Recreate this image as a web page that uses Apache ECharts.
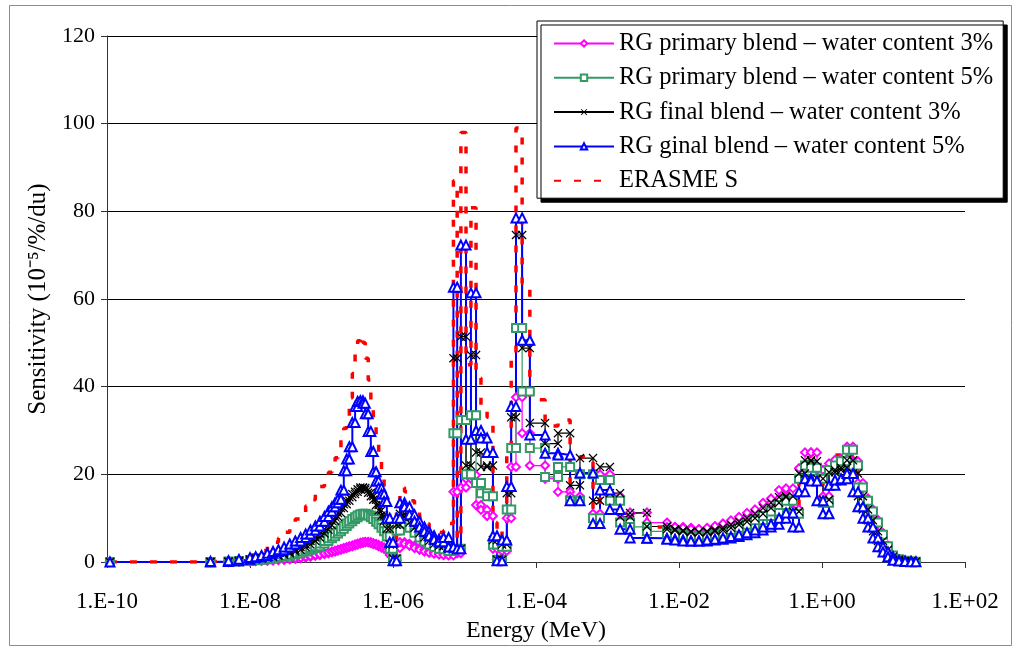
<!DOCTYPE html>
<html><head><meta charset="utf-8">
<script src="https://cdn.jsdelivr.net/npm/echarts@6/dist/echarts.min.js"></script>
<style>html,body{margin:0;padding:0;background:#fff}#chart{width:1017px;height:657px}</style>
</head><body><div id="chart"></div>
<script>
// Energy group boundaries (MeV)
const groupEdges = [
  1.1e-10, 2.8e-9, 5e-9, 7e-9,
  1e-8, 1.2e-8, 1.45e-8, 1.75e-8, 2.1e-8, 2.5e-8, 3e-8, 3.6e-8, 4.3e-8, 5.1e-8, 6e-8, 7e-8, 8.2e-8, 9.5e-8,
  1.1e-7, 1.25e-7, 1.4e-7, 1.55e-7, 1.7e-7, 1.87e-7, 2.05e-7, 2.25e-7, 2.45e-7, 2.7e-7, 2.95e-7, 3.2e-7, 3.5e-7, 3.8e-7,
  4.1e-7, 4.5e-7, 4.9e-7, 5.3e-7, 5.8e-7, 6.3e-7, 6.9e-7, 7.5e-7, 8.2e-7, 9e-7,
  1e-6, 1.12e-6, 1.25e-6, 1.45e-6, 1.7e-6, 2e-6, 2.35e-6, 2.75e-6, 3.2e-6, 3.75e-6, 4.4e-6, 5.1e-6, 6e-6,
  7e-6, 7.9e-6, 8.9e-6, 1.05e-5, 1.23e-5, 1.45e-5, 1.7e-5, 2.07e-5, 2.5e-5, 2.85e-5, 3.35e-5, 3.9e-5, 4.5e-5, 5.25e-5, 6.4e-5, 8.2e-5,
  1.34e-4, 2.03e-4, 3e-4, 4.12e-4, 6.27e-4, 7.85e-4, 1.08e-3, 1.5e-3, 2.07e-3, 3.56e-3,
  6.79e-3, 8.79e-3, 1.14e-2, 1.47e-2, 1.9e-2, 2.47e-2, 3.18e-2, 4.12e-2, 5.33e-2, 6.9e-2, 8.93e-2,
  0.1156, 0.1496, 0.1936, 0.2506, 0.314, 0.3926, 0.4764, 0.578, 0.7015, 0.851,
  1.033, 1.253, 1.52, 1.845, 2.239, 2.716, 3.186, 3.74, 4.4, 5.16, 6.07, 7.13, 8.37, 9.84, 11.94, 14.5, 17.6, 20.6
];

// Sensitivity per group (10^-5 /%/du)
const primary3 = [
  0, 0, 0.05, 0.1,
  0.2, 0.25, 0.3, 0.35, 0.45, 0.5, 0.6, 0.7, 0.85, 1.0, 1.2, 1.4, 1.6, 1.8, 2.0, 2.2, 2.4, 2.6, 2.8, 3.0, 3.2, 3.4, 3.6, 3.8, 4.0, 4.2, 4.4, 4.5, 4.6, 4.5, 4.3, 4.1, 3.9, 3.6, 3.3, 3.0, 2.6, 1.6, 0.4,
  3.2, 4.5, 4.2, 3.7, 3.2, 2.8, 2.4, 2.1, 1.9, 1.7, 1.6, 1.5,
  16, 2, 17, 19, 19.8, 13, 11.9, 10.5, 3, 0.5, 2.5, 10, 21.7, 37.6, 29.4, 22, 19, 16, 15, 20.2, 11, 20, 15, 11, 11.3, 9,
  8, 8, 7.8, 7.5, 7.5, 7.8, 8.2, 8.8, 9.5, 10.3, 11.2, 12, 13.5, 14.5, 16.4, 16.8, 12, 21.4, 25, 25, 21, 15, 22.5, 23.3, 23.5, 26.3, 23, 18, 14.5, 12, 9.6, 6.6, 3.8, 1.5, 0.6, 0.3, 0.1, 0.05
];
const primary5 = [
  0, 0, 0.1, 0.2,
  0.4, 0.5, 0.6, 0.8, 1.0, 1.2, 1.4, 1.7, 2.0, 2.4, 2.8, 3.2, 3.6, 4.2, 4.8, 5.4, 5.9, 6.5, 7.0, 7.6, 8.2, 8.8, 9.3, 9.8, 10.2, 10.6, 10.9, 11.0, 10.9, 10.6, 10.2, 9.8, 9.2, 8.6, 7.8, 7.0, 5.8, 3.0, 0.6,
  7.2, 9.5, 8.8, 7.8, 6.7, 5.6, 4.7, 4.0, 3.4, 3.0, 2.9, 2.5,
  29.4, 3, 32.4, 20, 33.5, 18, 15.7, 15, 4, 0.5, 3.5, 12, 26, 53.4, 38.9, 26, 19.4, 21.7, 14, 20, 10, 18.7, 14, 9, 8, 7,
  6.5, 6.2, 6, 5.8, 5.8, 6, 6.3, 6.8, 7.3, 7.8, 8.5, 9.5, 10.5, 11.5, 13, 14, 11, 19, 22, 21.5, 19, 13.5, 21, 22, 23, 25.6, 22, 17, 14, 11.5, 9, 6.2, 3.6, 1.5, 0.6, 0.3, 0.1, 0.05
];
const final3 = [
  0, 0, 0.1, 0.3,
  0.6, 0.8, 1.0, 1.2, 1.4, 1.7, 2.0, 2.4, 2.8, 3.4, 4.0, 4.8, 5.6, 6.5, 7.4, 8.4, 9.4, 10.3, 11.2, 12.3, 13.2, 14.0, 14.8, 15.5, 16.0, 16.6, 17.0, 16.9, 16.5, 15.8, 15.0, 14.2, 13.0, 11.8, 10.6, 9.4, 7.6, 4.0, 0.8,
  8.5, 11, 10.3, 9.0, 7.8, 6.6, 5.6, 4.8, 4.1, 3.7, 3.6, 3.0,
  46.5, 3, 51.4, 22, 47.2, 25, 21.7, 22, 5, 0.5, 4, 15.7, 33, 74.6, 48.8, 31.7, 27, 29.4, 17.5, 23.7, 14, 21.7, 15.7, 10.3, 11.2, 8.1,
  7.5, 7.2, 7, 6.8, 6.8, 7, 7.3, 7.8, 8.5, 9.2, 10, 11, 12.3, 13.5, 14.8, 15, 11.5, 20.2, 23.2, 23, 19, 14.2, 20.5, 21, 21.5, 23.2, 20.2, 15, 12, 9.5, 7, 4.8, 2.8, 1.2, 0.5, 0.25, 0.1, 0.05
];
const final5 = [
  0, 0.1, 0.3, 0.6,
  1.0, 1.2, 1.5, 2.0, 2.4, 2.8, 3.4, 4.1, 4.8, 5.6, 6.4, 7.3, 8.2, 9.3, 10.4, 11.6, 12.6, 13.5, 14.3, 16.4, 20.8, 23.5, 26.3, 31.8, 35.5, 36.6, 36.8, 36.2, 33.8, 29.8, 25.2, 20.6, 18.5, 16.9, 15.5, 13.8, 10.0, 4.5, 0.3,
  10, 13.5, 12.6, 10.8, 9.3, 8.0, 7.0, 6.0, 5.2, 4.6, 5.6, 3.4,
  62.7, 3, 72.3, 28, 61.4, 30, 28.3, 25, 6, 0.3, 5, 17.2, 35.5, 78.5, 50.6, 29, 24.8, 24.4, 14, 20.3, 8.8, 16.4, 12, 7.5, 5.5, 5.4,
  5.2, 5, 4.8, 4.8, 4.8, 5, 5.2, 5.5, 5.8, 6.2, 6.7, 7.3, 8, 8.6, 10, 11.2, 8, 16, 19, 18.5, 14, 11, 17.5, 18.7, 19, 20.2, 16, 12.6, 10, 8, 5.5, 3.5, 2.3, 1.2, 0.4, 0.2, 0.1, 0.05
];
const erasmeS = [
  0, 0.3, 0.6, 1.0,
  1.6, 2.0, 2.6, 3.5, 4.5, 5.5, 6.8, 8.3, 9.8, 11.2, 12.8, 14.2, 15.7, 17.2, 18.6, 20.5, 22.2, 23.8, 25.8, 28.3, 30.5, 33.2, 37.5, 43.0, 47.5, 50.5, 51.8, 50.0, 46.5, 41.5, 36.5, 31.5, 28.0, 24.5, 20.5, 16.5, 12.5, 7.0, 2.0,
  13, 17, 16, 14, 12, 10.2, 8.8, 7.6, 6.8, 6.6, 7.2, 8.8,
  87, 5, 98, 45, 80.8, 42, 35.8, 33, 9, 1, 8, 25, 46, 99, 63.6, 37, 31, 32.4, 18, 24, 12, 20, 15, 10, 10, 8,
  7.5, 7, 7, 6.8, 6.8, 7, 7.3, 8, 8.5, 9.3, 10, 11, 12.5, 13.5, 15, 15.5, 12, 20, 24, 24.5, 21, 14, 23.5, 24.4, 23.5, 24, 21, 16, 12.5, 10, 7.5, 5, 3, 1.5, 0.6, 0.3, 0.1, 0.05
];

const seriesNames = [
  'RG primary blend \u2013 water content 3%',
  'RG primary blend \u2013 water content 5%',
  'RG final blend \u2013 water content 3%',
  'RG ginal blend \u2013 water content 5%',
  'ERASME S'
];
const xTickLabels = ['1.E-10', '1.E-08', '1.E-06', '1.E-04', '1.E-02', '1.E+00', '1.E+02'];
const xTickValues = [1e-10, 1e-8, 1e-6, 1e-4, 1e-2, 1, 100];

function steps(values) {
  const pts = [];
  for (let i = 0; i < values.length; i++) {
    pts.push([groupEdges[i], values[i]]);
    pts.push([groupEdges[i + 1], values[i]]);
  }
  return pts;
}

const FONT = "'Liberation Serif', 'Times New Roman', serif";
const crossPath = 'path://M0,1 L1,0 L5,4 L9,0 L10,1 L6,5 L10,9 L9,10 L5,6 L1,10 L0,9 L4,5 Z';

const chart = echarts.init(document.getElementById('chart'), null, {renderer: 'canvas'});
chart.setOption({
  animation: false,
  backgroundColor: '#fff',
  graphic: [{
    type: 'rect', silent: true, z: -10,
    shape: {x: 9.5, y: 5.5, width: 1002, height: 640},
    style: {fill: 'none', stroke: '#8c8c8c', lineWidth: 1}
  }],
  grid: {left: 107, right: 52, top: 36, bottom: 95, containLabel: false},
  legend: {
    orient: 'vertical', left: 537, top: 21,
    padding: [10, 10, 5, 16],
    itemGap: 9.3, itemWidth: 60, itemHeight: 8,
    backgroundColor: '#fff', borderColor: '#000', borderWidth: 1,
    shadowColor: '#000', shadowOffsetX: 4, shadowOffsetY: 4, shadowBlur: 0,
    textStyle: {fontFamily: FONT, fontSize: 24.5, color: '#000', lineHeight: 23},
    data: seriesNames
  },
  xAxis: {
    type: 'log', logBase: 100, min: 1e-10, max: 100,
    splitNumber: 5,
    axisLine: {lineStyle: {color: '#333', width: 1}},
    axisTick: {show: true, inside: false, length: 6, lineStyle: {color: '#333'}},
    minorTick: {show: false},
    splitLine: {show: false},
    axisLabel: {
      fontFamily: FONT, fontSize: 23, color: '#000', margin: 28,
      formatter: function (v) {
        for (let i = 0; i < xTickValues.length; i++) {
          if (Math.abs(Math.log10(v) - Math.log10(xTickValues[i])) < 0.01) return xTickLabels[i];
        }
        return '';
      }
    },
    name: 'Energy (MeV)', nameLocation: 'middle', nameGap: 57,
    nameTextStyle: {fontFamily: FONT, fontSize: 24, color: '#000'}
  },
  yAxis: {
    type: 'value', min: 0, max: 120, interval: 20,
    axisLine: {show: true, lineStyle: {color: '#333', width: 1}},
    axisTick: {show: true, inside: false, length: 6, lineStyle: {color: '#333'}},
    splitLine: {show: true, lineStyle: {color: '#000', width: 1}},
    axisLabel: {fontFamily: FONT, fontSize: 22, color: '#000', margin: 12},
    name: 'Sensitivity (10\u207B\u2075/%/du)', nameLocation: 'middle', nameGap: 56, nameRotate: 90,
    nameTextStyle: {fontFamily: FONT, fontSize: 25, color: '#000'}
  },
  series: [
    {
      name: seriesNames[0], type: 'line', data: steps(primary3),
      symbol: 'emptyDiamond', symbolSize: 8,
      lineStyle: {color: '#FF00FF', width: 1.2},
      itemStyle: {color: '#FF00FF', borderColor: '#FF00FF', borderWidth: 1.2}
    },
    {
      name: seriesNames[1], type: 'line', data: steps(primary5),
      symbol: 'emptyRect', symbolSize: 8,
      lineStyle: {color: '#339966', width: 1.2},
      itemStyle: {color: '#339966', borderColor: '#339966', borderWidth: 1.2}
    },
    {
      name: seriesNames[2], type: 'line', data: steps(final3),
      symbol: crossPath, symbolSize: 9,
      lineStyle: {color: '#000', width: 1.2},
      itemStyle: {color: '#000', borderColor: '#000', borderWidth: 0}
    },
    {
      name: seriesNames[3], type: 'line', data: steps(final5),
      symbol: 'emptyTriangle', symbolSize: 9,
      lineStyle: {color: '#0000FF', width: 2},
      itemStyle: {color: '#0000FF', borderColor: '#0000FF', borderWidth: 1.5}
    },
    {
      name: seriesNames[4], type: 'line', data: steps(erasmeS),
      symbol: 'none',
      lineStyle: {color: '#FF0000', width: 3.5, type: [7, 13]},
      itemStyle: {color: 'transparent', borderColor: 'transparent', borderWidth: 0}
    }
  ]
});
</script></body></html>
